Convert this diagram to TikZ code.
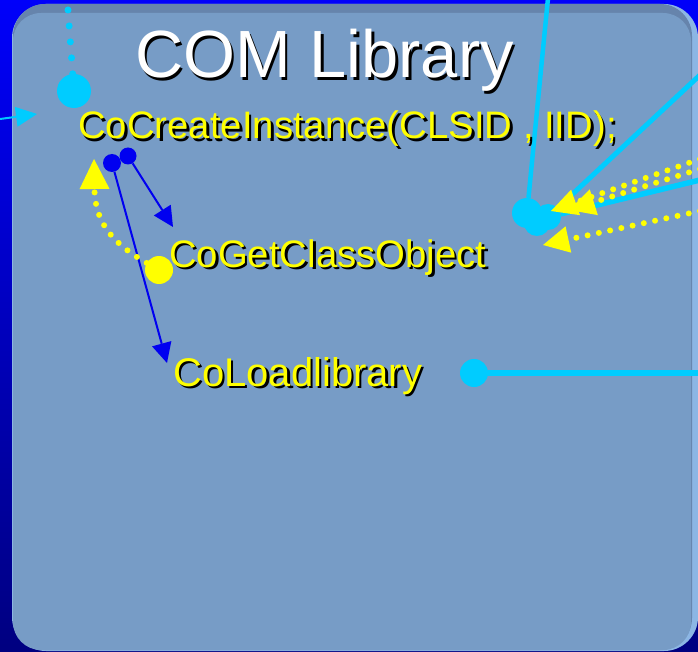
\documentclass[tikz,border=0pt]{standalone}
\usepackage{fontspec}
\setmainfont{Liberation Sans}
\usetikzlibrary{arrows.meta}
\definecolor{bgtop}{RGB}{0,0,250}
\definecolor{bgbot}{RGB}{0,0,128}
\definecolor{panel}{RGB}{119,156,198}
\definecolor{paneltop}{RGB}{102,132,172}
\definecolor{panelrim}{RGB}{140,182,228}
\definecolor{cyanc}{RGB}{0,204,255}
\definecolor{yell}{RGB}{255,255,0}
\definecolor{bluec}{RGB}{0,0,240}
\newcommand{\shtxt}[3]{\makebox[0pt][l]{\kern#3\raisebox{-#3}{\color{black}#2}}{\color{#1}#2}}
\tikzset{
  ttl/.style={font=\fontsize{66.8}{79}\selectfont, inner sep=0pt, anchor=base west},
  lbl/.style={font=\fontsize{38.3}{45}\selectfont, inner sep=0pt, anchor=base west},
  blob/.style={circle, fill=#1, draw=none, inner sep=0pt},
  ydots/.style={draw=yell, line width=6pt, line cap=round, dash pattern=on 0pt off 11.5pt},
  cdots/.style={draw=cyanc, line width=7pt, line cap=round, dash pattern=on 0pt off 16pt},
  ytip/.style={-{Triangle[length=26pt,width=27pt,line width=0pt]}},
  ytipbig/.style={-{Triangle[length=30pt,width=30pt,line width=0pt]}},
  btip/.style={-{Triangle[length=20pt,width=20pt,line width=0pt]}},
}
\begin{document}
\begin{tikzpicture}[x=1pt,y=-1pt]
\useasboundingbox (0,0) rectangle (698,652);
\shade[top color=bgtop, bottom color=bgbot] (0,0) rectangle (698,652);
% panel
\fill[panelrim, rounded corners=34pt] (12,4) rectangle (698,651);
\fill[paneltop, rounded corners=32pt] (13,4) rectangle (692,650);
\fill[panel, rounded corners=28pt] (13,13) rectangle (691,650);

% blobs
\node[blob=cyanc, minimum size=34pt] (c1) at (74,91) {};
\node[blob=bluec, minimum size=18pt] (b1) at (112,163) {};
\node[blob=bluec, minimum size=17pt] (b2) at (128,156) {};
\node[blob=yell, minimum size=28pt] (y1) at (159,270) {};
\node[blob=cyanc, minimum size=30pt] (k1) at (527,213) {};
\node[blob=cyanc, minimum size=26pt] (k2) at (537,223) {};
\node[blob=cyanc, minimum size=26pt] (k3) at (548,217) {};
\node[blob=cyanc, minimum size=28pt] (k4) at (474,373) {};

% free ends
\coordinate (ctop) at (68,10);
\coordinate (lin) at (0,119);
\coordinate (lout) at (37,114);
\coordinate (gco) at (173,227);
\coordinate (llo) at (167,363);
\coordinate (ytop) at (94,159);
\coordinate (ta) at (548,-2);
\coordinate (tb) at (700,75);
\coordinate (tc) at (700,180);
\coordinate (tr) at (700,373);
\coordinate (ya0) at (700,159);
\coordinate (yb0) at (700,169);
\coordinate (yc0) at (700,211);
\coordinate (ya) at (551,211);
\coordinate (yb) at (569,210);
\coordinate (yc) at (543,245);

% cyan connectors
\draw[cdots] (ctop) -- (c1);
\draw[draw=cyanc, line width=2pt, -{Triangle[length=21pt,width=20pt,line width=0pt]}] (lin) -- (lout);
\draw[draw=cyanc, line width=4.5pt] (ta) -- (k1);
\draw[draw=cyanc, line width=5pt] (tb) -- (k3);
\draw[draw=cyanc, line width=5.5pt] (tc) -- (k3);
\draw[draw=cyanc, line width=6pt] (k4) -- (tr);

% blue connectors
\draw[draw=bluec, line width=2pt, btip] (b2) -- (gco);
\draw[draw=bluec, line width=2pt, btip] (b1) -- (llo);

% yellow connectors
\draw[ydots, ytipbig] (y1) .. controls (112,243) and (95,222) .. (ytop);
\draw[ydots, ytip] (ya0) -- (ya);
\draw[ydots, ytip] (yb0) -- (yb);
\draw[ydots, ytip] (yc0) -- (yc);

% texts
\node[ttl] (title) at (135,78) {\shtxt{white}{COM Library}{2.5pt}};
\node[lbl] (t1) at (78,139) {\shtxt{yell}{CoCreateInstance(CLSID , IID);}{2.5pt}};
\node[lbl] (t2) at (169,267) {\shtxt{yell}{CoGetClassObject}{2.5pt}};
\node[lbl, font=\fontsize{40}{45}\selectfont] (t3) at (173,386) {\shtxt{yell}{CoLoadlibrary}{2.5pt}};
\end{tikzpicture}
\end{document}
